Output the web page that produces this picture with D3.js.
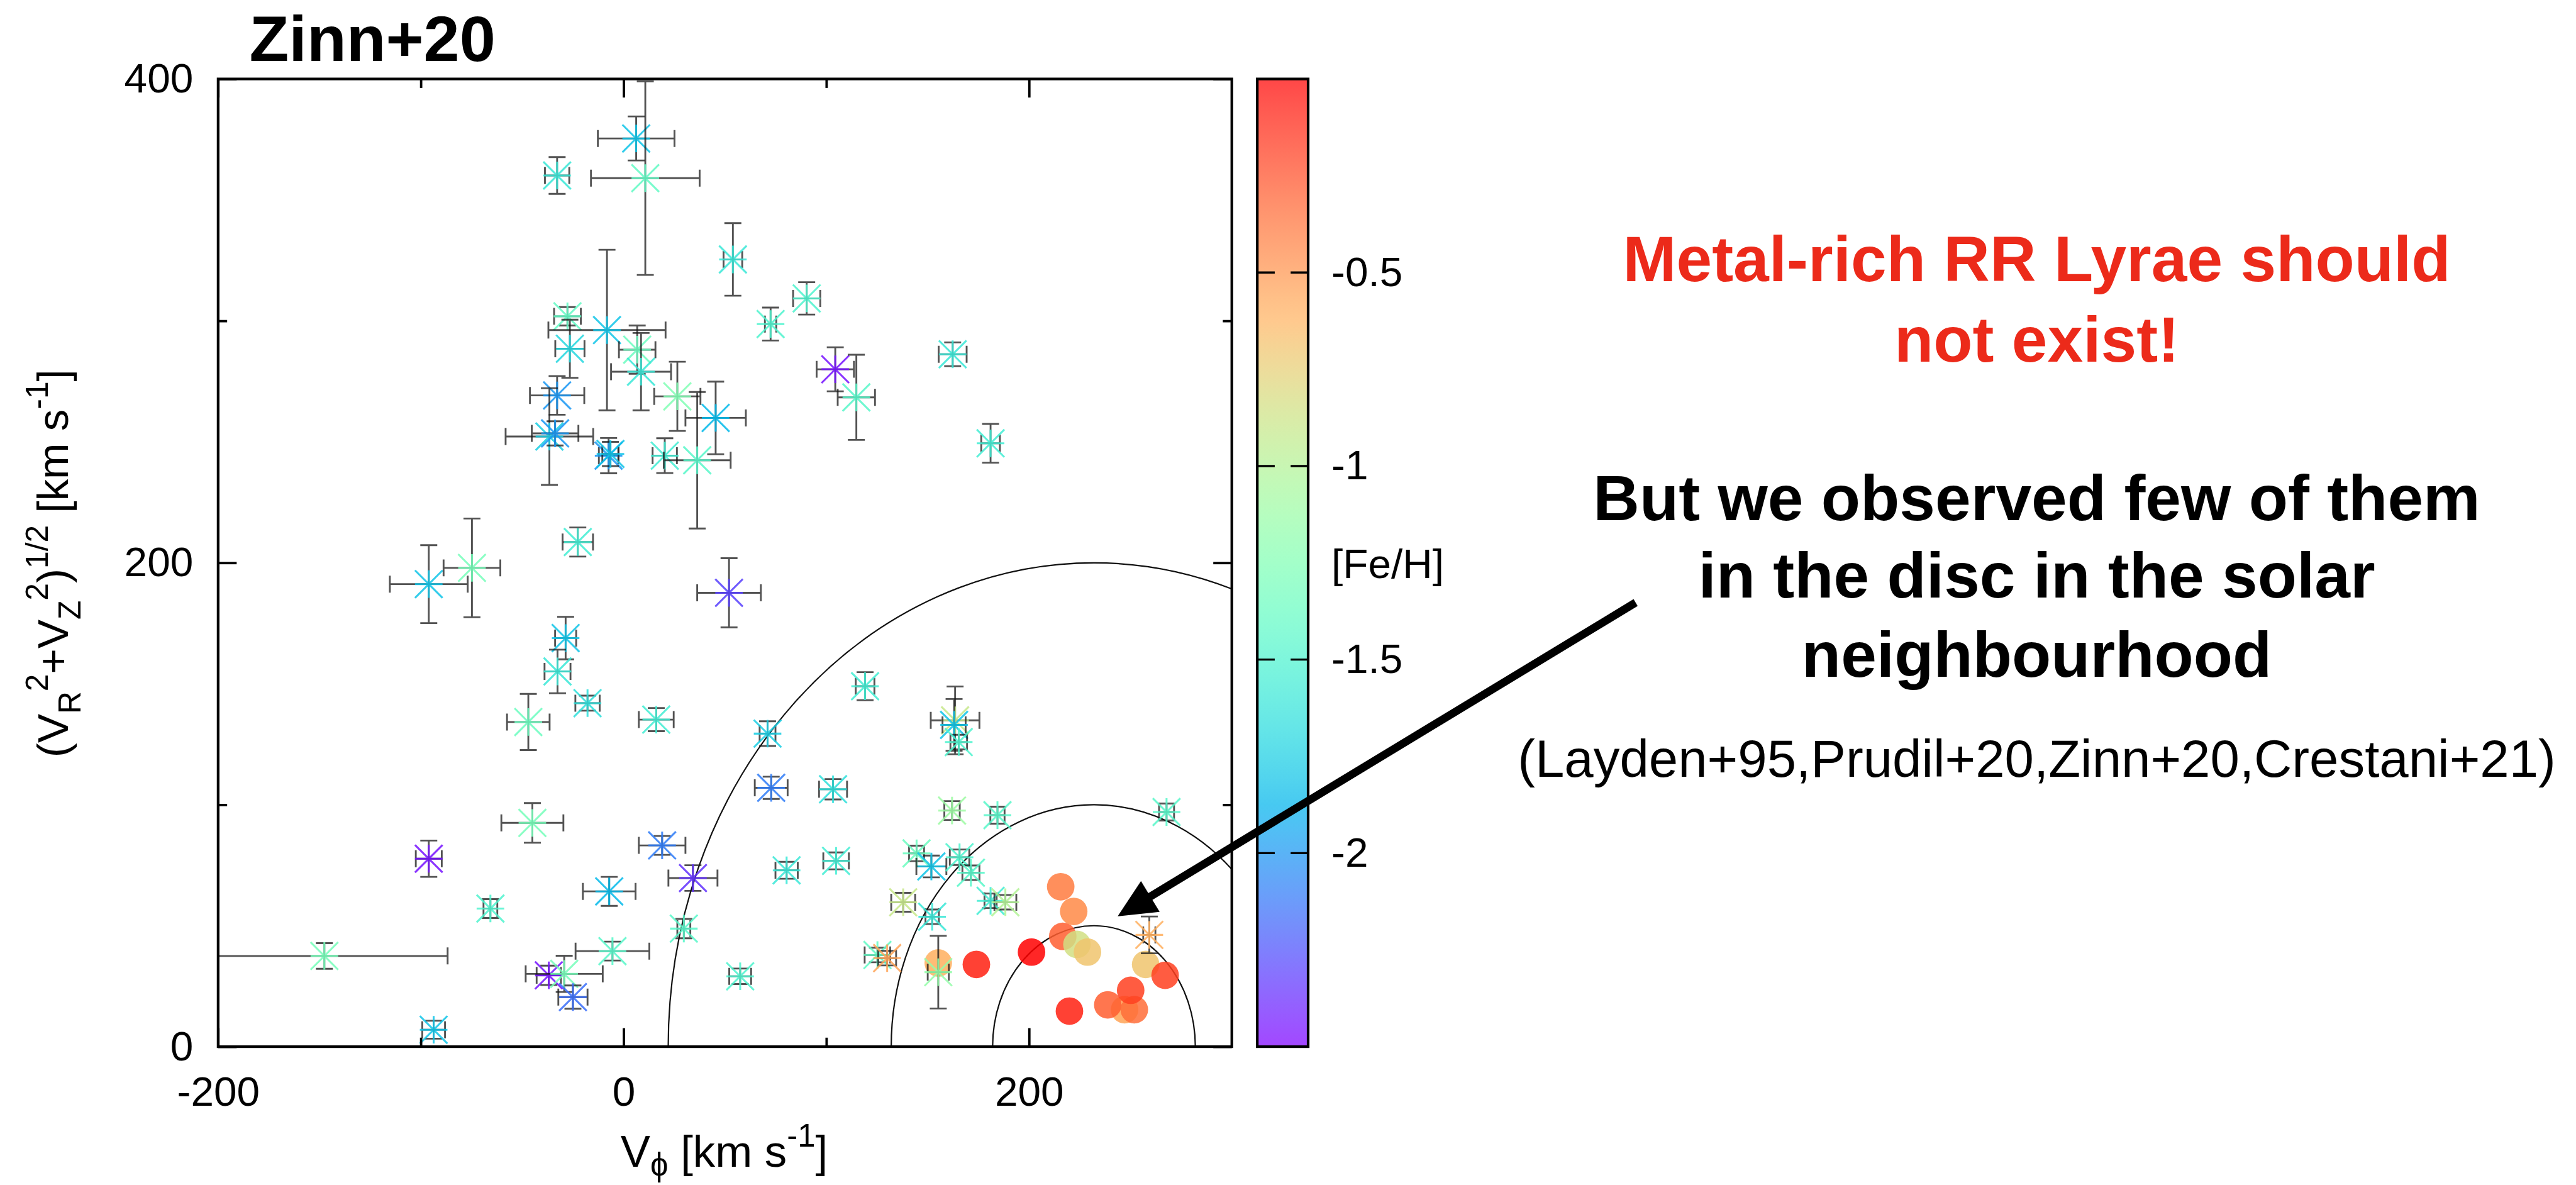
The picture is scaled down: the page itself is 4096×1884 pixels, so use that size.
<!DOCTYPE html>
<html>
<head>
<meta charset="utf-8">
<script src="https://cdn.jsdelivr.net/npm/d3@7"></script>
<style>
  html, body { margin: 0; padding: 0; background: #fff; }
  svg { display: block; }
  text { font-family: "Liberation Sans", Arial, Helvetica, sans-serif; white-space: pre; }
</style>
</head>
<body>
<svg id="chart"></svg>
<script>
// RR Lyrae halo stars (Zinn+20): V_phi, V_perp, errors, [Fe/H]
var starVphi = [6.2, 10.7, -32.8, 53.9, -27.7, -26.5, -8.2, 6.7, 8.6, -32.8, 26.5, 45.4, -36.6, -33.8, -7.4, -6.5, 20.3, 36.3, -22.6,
  72.5, 90.3, 104.4, 114.8, 162.3, 181, -96.1, -74.8, 52, -28.6, -32.6, -17.8, -47, 16.1, -45, -96.1, -65.7, -147.6, 19, 34.2,
  -7.1, 29.7, -5.5, -36.9, -29.3, -25, -93.7, 119.1, 71, 72.8, 103.3, 80.4, 104.8, 57.5, 163.5, 163, 165.3, 162, 144.5, 151.8,
  165.7, 171.3, 137.9, 152.2, 125.2, 130, 155.2, 184.4, 267.8, 181, 188.3, 259.3];
var starVperp = [375.4, 359, 360.1, 325.4, 301.9, 288.5, 296.2, 288.1, 279, 269.2, 268.8, 259.9, 252.2, 253.5, 244.3, 245, 244.3, 242.4, 208.6,
  298.7, 309.3, 280, 268.4, 286.2, 249.4, 191.2, 197.9, 187.6, 168.9, 155.1, 142, 134.2, 135.2, 92.5, 77.7, 57.1, 37.5, 83.2, 69.7,
  64.2, 48.8, 39.5, 29.5, 30.1, 20.5, 7, 149, 129.4, 107, 106.4, 72.9, 76.8, 29.1, 134.9, 133, 125.9, 97.6, 79.9, 74.5,
  78.3, 71.9, 59.7, 53.7, 37.9, 36.6, 30.8, 95.7, 97, 60.3, 59.7, 46.2];
var starErrPhi = [18.9, 26.8, 6, 4.6, 6.6, 7.2, 28.9, 9, 14.8, 13.4, 11.4, 14.9, 21.6, 11.5, 4.8, 4, 6, 16.5, 7.5,
  2.8, 6.7, 9.2, 9.2, 6.9, 4.6, 19.2, 14, 15.7, 5.2, 6.4, 6, 10.5, 8.6, 15.3, 6.4, 3.4, 60.8, 11.5, 12.1,
  13, 3.2, 18.2, 6, 19, 7.2, 5.6, 4.6, 3.9, 8.1, 6.9, 5.5, 6.3, 5.4, 12, 5.7, 4.1, 3.8, 3.7, 7.4,
  4.8, 4.2, 5.9, 3.3, 6.3, 4.4, 5.2, 3.5, 3.7, 3, 5.4, 3];
var starErrPerp = [9.1, 40, 7.6, 15, 3.8, 12, 33.2, 10, 16, 8, 14.3, 15, 20, 5, 7.3, 5, 7.2, 28.2, 6,
  6.8, 6.7, 9.1, 17.6, 4.9, 8, 16.1, 20.4, 14.3, 8.8, 9, 3.1, 11.6, 4.8, 8.2, 7.5, 3.9, 5.3, 3.9, 5.3,
  6, 4, 3.9, 4, 7.5, 4.8, 3.7, 5.8, 5.1, 4.6, 4.2, 3.5, 3.5, 3.2, 14, 10.7, 3, 3.9, 3.2, 4.5,
  3.2, 3, 3.9, 3, 3, 3, 15, 3.5, 3.5, 3, 3, 7.6];
var starFeH = [-1.8, -1.4, -1.6, -1.6, -1.4, -1.7, -1.8, -1.35, -1.6, -2.0, -1.25, -1.85, -1.75, -2.0, -2.0, -1.8, -1.55, -1.45, -1.55,
  -1.5, -1.5, -2.45, -1.45, -1.6, -1.55, -1.8, -1.3, -2.3, -1.8, -1.6, -1.65, -1.35, -1.55, -1.3, -2.45, -1.5, -1.3, -2.1, -2.35,
  -1.85, -1.45, -1.45, -2.45, -1.3, -2.15, -1.8, -1.55, -1.75, -2.1, -1.65, -1.6, -1.55, -1.5, -0.9, -1.8, -1.5, -1.1, -1.35, -1.8,
  -1.5, -1.45, -0.9, -1.6, -1.4, -0.55, -1.15, -1.45, -1.45, -1.55, -1.0, -0.6];

// metal-rich disc RR Lyrae (filled circles)
var discVphi = [201.2, 215.6, 222, 216.6, 223.6, 228.8, 257.5, 267.1, 247.1, 238.8, 251.9, 250.1, 219.9, 155.2, 174];
var discVperp = [39.1, 66.1, 55.9, 45.6, 42.3, 39.1, 34, 29.5, 15.3, 17.3, 15.3, 23.3, 14.7, 34.6, 34];
var discFeH = [0, -0.4, -0.45, -0.3, -0.85, -0.7, -0.7, -0.2, -0.55, -0.3, -0.35, -0.2, -0.1, -0.6, -0.1];

// constant total-velocity curves around the LSR
var vLSR = 232;
var curveRx = [210, 100, 50];
var curveRy = [200, 100, 50];

var xMajorTicks = [-200, 0, 200];
var xMinorTicks = [-100, 100];
var yMajorTicks = [0, 200, 400];
var yMinorTicks = [100, 300];
var cbTicks = [-0.5, -1, -1.5, -2];

var W = 4860, H = 2236;
var pLeft = 411, pRight = 2324, pTop = 149, pBottom = 1975;
var FS = 78;

var svg = d3.select("#chart")
  .attr("width", 4096).attr("height", 1884)
  .attr("viewBox", "0 0 " + W + " " + H);

var x = d3.scaleLinear().domain([-200, 300]).range([pLeft, pRight]);
var y = d3.scaleLinear().domain([0, 400]).range([pBottom, pTop]);
var fehScale = d3.scaleLinear().domain([-2.5, 0]).range([0, 1]).clamp(true);

// gnuplot rgbformulae 33,13,10
function palette(v, alpha) {
  var t = fehScale(v);
  var r = Math.min(1, Math.abs(2 * t - 0.5));
  var g = Math.max(0, Math.sin(Math.PI * t));
  var b = Math.max(0, Math.cos(Math.PI * t / 2));
  if (alpha !== undefined) {
    r = 1 - alpha + alpha * r; g = 1 - alpha + alpha * g; b = 1 - alpha + alpha * b;
  }
  return d3.rgb(r * 255, g * 255, b * 255).formatHex();
}

var defs = svg.append("defs");
defs.append("clipPath").attr("id", "plotClip")
  .append("rect").attr("x", pLeft).attr("y", pTop)
  .attr("width", pRight - pLeft).attr("height", pBottom - pTop);

// curves
var plot = svg.append("g").attr("clip-path", "url(#plotClip)");
plot.selectAll("ellipse.curve").data(curveRx).enter().append("ellipse")
  .attr("class", "curve")
  .attr("cx", x(vLSR)).attr("cy", y(0))
  .attr("rx", function(d) { return x(vLSR + d) - x(vLSR); })
  .attr("ry", function(d, i) { return y(0) - y(curveRy[i]); })
  .attr("fill", "none").attr("stroke", "#111").attr("stroke-width", 2.6);

// disc stars
plot.selectAll("circle.disc").data(discVphi).enter().append("circle")
  .attr("class", "disc")
  .attr("cx", function(d) { return x(d); })
  .attr("cy", function(d, i) { return y(discVperp[i]); })
  .attr("r", 26)
  .attr("fill", function(d, i) { return palette(discFeH[i]); })
  .attr("fill-opacity", 0.85);

// halo stars with error bars
var cap = 16, s = 26;
var stars = plot.selectAll("g.star").data(starVphi).enter().append("g").attr("class", "star");
stars.append("path")
  .attr("d", function(d, i) {
    var cx = x(d), cy = y(starVperp[i]);
    var x0 = x(d - starErrPhi[i]), x1 = x(d + starErrPhi[i]);
    var y0 = y(starVperp[i] - starErrPerp[i]), y1 = y(starVperp[i] + starErrPerp[i]);
    return "M" + x0 + "," + cy + "H" + x1 +
      "M" + x0 + "," + (cy - cap) + "V" + (cy + cap) +
      "M" + x1 + "," + (cy - cap) + "V" + (cy + cap) +
      "M" + cx + "," + y0 + "V" + y1 +
      "M" + (cx - cap) + "," + y0 + "H" + (cx + cap) +
      "M" + (cx - cap) + "," + y1 + "H" + (cx + cap);
  })
  .attr("fill", "none").attr("stroke", "#1a1a1a").attr("stroke-opacity", 0.75).attr("stroke-width", 3.4);
stars.append("path")
  .attr("d", function(d, i) {
    var cx = x(d), cy = y(starVperp[i]);
    return "M" + (cx - s) + "," + cy + "H" + (cx + s) +
      "M" + cx + "," + (cy - s) + "V" + (cy + s) +
      "M" + (cx - s) + "," + (cy - s) + "L" + (cx + s) + "," + (cy + s) +
      "M" + (cx - s) + "," + (cy + s) + "L" + (cx + s) + "," + (cy - s);
  })
  .attr("fill", "none")
  .attr("stroke", function(d, i) { return palette(starFeH[i]); })
  .attr("stroke-opacity", 0.85).attr("stroke-width", 3.6);

// axes: gnuplot style inward ticks on all four sides
function styleAxis(g) {
  g.select(".domain").remove();
  g.selectAll(".tick line").attr("stroke", "#000").attr("stroke-width", 4.5);
  g.selectAll(".tick text").attr("font-size", FS).attr("fill", "#000")
    .attr("font-family", "'Liberation Sans', Arial, sans-serif");
}
var fmt = function(d) { return String(d); };
svg.append("g").attr("transform", "translate(0," + pBottom + ")")
  .call(d3.axisBottom(x).tickValues(xMajorTicks).tickSize(-35).tickPadding(56).tickFormat(fmt)).call(styleAxis);
svg.append("g").attr("transform", "translate(0," + pBottom + ")")
  .call(d3.axisBottom(x).tickValues(xMinorTicks).tickSize(-17).tickFormat("")).call(styleAxis);
svg.append("g").attr("transform", "translate(0," + pTop + ")")
  .call(d3.axisTop(x).tickValues(xMajorTicks).tickSize(-35).tickFormat("")).call(styleAxis);
svg.append("g").attr("transform", "translate(0," + pTop + ")")
  .call(d3.axisTop(x).tickValues(xMinorTicks).tickSize(-17).tickFormat("")).call(styleAxis);
svg.append("g").attr("transform", "translate(" + pLeft + ",0)")
  .call(d3.axisLeft(y).tickValues(yMajorTicks).tickSize(-35).tickPadding(47).tickFormat(fmt)).call(styleAxis);
svg.append("g").attr("transform", "translate(" + pLeft + ",0)")
  .call(d3.axisLeft(y).tickValues(yMinorTicks).tickSize(-17).tickFormat("")).call(styleAxis);
svg.append("g").attr("transform", "translate(" + pRight + ",0)")
  .call(d3.axisRight(y).tickValues(yMajorTicks).tickSize(-35).tickFormat("")).call(styleAxis);
svg.append("g").attr("transform", "translate(" + pRight + ",0)")
  .call(d3.axisRight(y).tickValues(yMinorTicks).tickSize(-17).tickFormat("")).call(styleAxis);

svg.append("rect").attr("x", pLeft).attr("y", pTop)
  .attr("width", pRight - pLeft).attr("height", pBottom - pTop)
  .attr("fill", "none").attr("stroke", "#000").attr("stroke-width", 5);

// rich text helper (sub/superscripts)
function rich(sel, parts, fs, subShift) {
  var cur = 0;
  parts.forEach(function(p) {
    var target = p[1] === "sub" ? subShift * fs : p[1] === "sup" ? -0.45 * fs : 0;
    sel.append("tspan").attr("dy", target - cur)
      .attr("font-size", p[1] ? fs * 0.72 : fs).text(p[0]);
    cur = target;
  });
}

var xl = svg.append("text").attr("x", 1366).attr("y", 2202)
  .attr("text-anchor", "middle").attr("fill", "#000");
rich(xl, [["V", ""], ["\u03d5", "sub"], [" [km s", ""], ["-1", "sup"], ["]", ""]], 84, 0.2);

var yl = svg.append("text").attr("transform", "translate(127,1063) rotate(-90)")
  .attr("text-anchor", "middle").attr("fill", "#000");
rich(yl, [["(V", ""], ["R", "sub"], ["2", "sup"], ["+V", ""], ["Z", "sub"], ["2", "sup"], [")", ""],
  ["1/2", "sup"], [" [km s", ""], ["-1", "sup"], ["]", ""]], 82, 0.3);

svg.append("text").attr("x", 470).attr("y", 115)
  .attr("font-size", 122).attr("font-weight", "bold").attr("fill", "#000").text("Zinn+20");

// colour box
var cbL = 2372, cbR = 2468;
var cy = d3.scaleLinear().domain([-2.5, 0]).range([pBottom, pTop]);
var grad = defs.append("linearGradient").attr("id", "cbGrad")
  .attr("x1", 0).attr("y1", 1).attr("x2", 0).attr("y2", 0);
d3.range(0, 41).forEach(function(k) {
  var v = -2.5 + 2.5 * k / 40;
  grad.append("stop").attr("offset", (k / 40)).attr("stop-color", palette(v, 0.72));
});
svg.append("rect").attr("x", cbL).attr("y", pTop).attr("width", cbR - cbL).attr("height", pBottom - pTop)
  .attr("fill", "url(#cbGrad)").attr("stroke", "#000").attr("stroke-width", 5);
svg.selectAll("path.cbtick").data(cbTicks).enter().append("path")
  .attr("class", "cbtick")
  .attr("d", function(d) {
    return "M" + cbL + "," + cy(d) + "H" + (cbL + 33) + "M" + (cbR - 33) + "," + cy(d) + "H" + cbR;
  })
  .attr("stroke", "#000").attr("stroke-width", 4);
svg.append("g").attr("transform", "translate(" + cbR + ",0)")
  .call(d3.axisRight(cy).tickValues(cbTicks).tickSize(0).tickPadding(44).tickFormat(fmt))
  .call(styleAxis);
svg.append("text").attr("x", 2512).attr("y", 1063).attr("dy", "0.35em")
  .attr("font-size", FS).attr("fill", "#000").text("[Fe/H]");

// annotation text
var notes = svg.append("g").attr("text-anchor", "middle").attr("font-weight", "bold");
notes.append("text").attr("x", 3843).attr("y", 531).attr("font-size", 121).attr("fill", "#ec2a1a")
  .text("Metal-rich RR Lyrae should");
notes.append("text").attr("x", 3843).attr("y", 682).attr("font-size", 121).attr("fill", "#ec2a1a")
  .text("not exist!");
notes.append("text").attr("x", 3843).attr("y", 981).attr("font-size", 121).attr("fill", "#000")
  .text("But we observed few of them");
notes.append("text").attr("x", 3843).attr("y", 1127).attr("font-size", 121).attr("fill", "#000")
  .text("in the disc in the solar");
notes.append("text").attr("x", 3843).attr("y", 1277).attr("font-size", 121).attr("fill", "#000")
  .text("neighbourhood");
svg.append("text").attr("x", 3843).attr("y", 1466).attr("text-anchor", "middle")
  .attr("font-size", 99).attr("fill", "#000")
  .text("(Layden+95,Prudil+20,Zinn+20,Crestani+21)");

// arrow pointing at the disc stars
var tail = [3086, 1137];
var tip = [x(243.7), y(53.9)];
var dx = tail[0] - tip[0], dy = tail[1] - tip[1], len = Math.sqrt(dx * dx + dy * dy);
var ux = dx / len, uy = dy / len, headL = 72, headW = 34;
var base = [tip[0] + ux * headL, tip[1] + uy * headL];
svg.append("line").attr("x1", tail[0]).attr("y1", tail[1])
  .attr("x2", base[0] + ux * -4).attr("y2", base[1] + uy * -4)
  .attr("stroke", "#000").attr("stroke-width", 15);
svg.append("path")
  .attr("d", "M" + tip[0] + "," + tip[1] +
    "L" + (base[0] - uy * headW) + "," + (base[1] + ux * headW) +
    "L" + (base[0] + uy * headW) + "," + (base[1] - ux * headW) + "Z")
  .attr("fill", "#000");
</script>
</body>
</html>
